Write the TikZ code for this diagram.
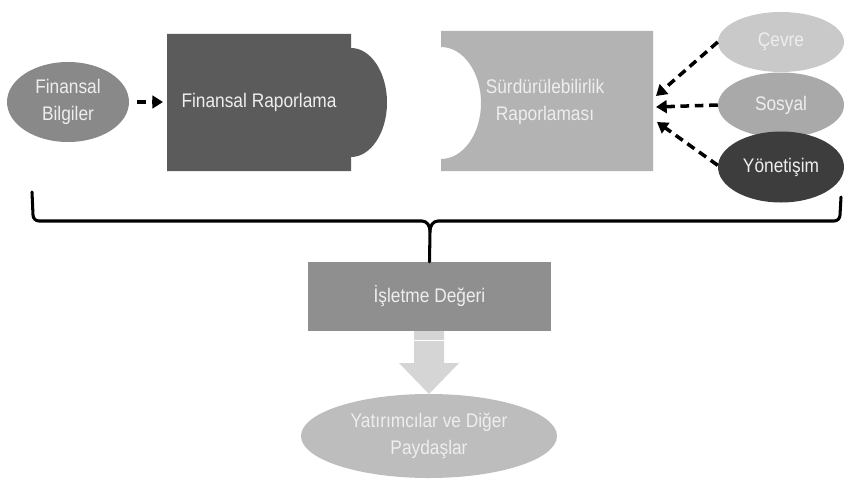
\documentclass[tikz,border=0pt]{standalone}
\usepackage{fontspec}
\setmainfont{Liberation Sans}[FakeStretch=0.88]
\usetikzlibrary{shapes.geometric,arrows.meta}
\definecolor{txtlight}{HTML}{EEEEEE}
\definecolor{bilgigray}{HTML}{898989}
\definecolor{finrapgray}{HTML}{5B5B5B}
\definecolor{surdgray}{HTML}{B3B3B3}
\definecolor{cevregray}{HTML}{C9C9C9}
\definecolor{sosyalgray}{HTML}{A9A9A9}
\definecolor{yonetgray}{HTML}{3D3D3D}
\definecolor{degergray}{HTML}{8F8F8F}
\definecolor{okgray}{HTML}{D5D5D5}
\definecolor{paydasgray}{HTML}{BDBDBD}
\begin{document}
\begin{tikzpicture}[x=0.03cm,y=-0.03cm,line join=round,line cap=round,
    font=\fontsize{16.8pt}{23pt}\selectfont,
    oval/.style={ellipse,inner sep=0pt,text=txtlight,align=center},
    dasharrow/.style={line width=3pt,line cap=butt,dash pattern=on 0.26cm off 0.17cm,
        -{Triangle[length=0.32cm,width=0.38cm]}}]
    \useasboundingbox (0,0) rectangle (844,479);
    \def\finrapshape{(167,34) -- (351,34) -- (351,48)
        arc[start angle=90,end angle=-90,x radius=1.08cm,y radius=1.635cm]
        -- (351,171) -- (167,171) -- cycle}
    \def\surdshape{(441,31) -- (653,31) -- (653,171) -- (441,171) -- (441,159)
        arc[start angle=-90,end angle=90,x radius=1.2cm,y radius=1.68cm] -- cycle}
    % ust sira
    \fill[finrapgray] \finrapshape;
    \fill[surdgray] \surdshape;
    \node[text=txtlight] (finrap) at (259,102) {Finansal Raporlama};
    \node[text=txtlight,align=center] (surd) at (545,102) {Sürdürülebilirlik\\Raporlaması};
    \node[oval,fill=bilgigray,minimum width=3.66cm,minimum height=2.4cm] (bilgi) at (68,102) {Finansal\\Bilgiler};
    \node[oval,fill=cevregray,minimum width=3.78cm,minimum height=1.8cm] (cevre) at (781,42) {Çevre};
    \node[oval,fill=sosyalgray,minimum width=3.78cm,minimum height=1.95cm] (sosyal) at (781,105) {Sosyal};
    \node[oval,fill=yonetgray,minimum width=3.78cm,minimum height=2.13cm] (yonet) at (781,167) {Yönetişim};
    \coordinate (finrapw) at (163,102);
    \coordinate (surd1) at (656,96);
    \coordinate (surd2) at (656,107);
    \coordinate (surd3) at (657,122);
    \draw[dasharrow] ([xshift=0.24cm]bilgi.east) -- (finrapw);
    \draw[dasharrow] (cevre.west) -- (surd1);
    \draw[dasharrow] (sosyal.west) -- (surd2);
    \draw[dasharrow] ([yshift=0.05cm]yonet.west) -- (surd3);
    % kume parantezi
    \coordinate (braceL) at (32,192);
    \coordinate (braceR) at (841,197);
    \coordinate (bracetip) at (430,231);
    \draw[line width=2.6pt] (braceL) -- (33,215) to[out=-90,in=180] (39,221) -- (422,221)
        to[out=0,in=90] (bracetip) to[out=90,in=180] (438,221) -- (834,221)
        to[out=0,in=-90] (840,215) -- (braceR);
    % alt kisim
    \node[fill=degergray,text=txtlight,minimum width=7.29cm,minimum height=2.07cm,inner sep=0pt] (deger) at (429.5,296.5) {İşletme Değeri};
    \draw[line width=2.6pt] (bracetip) -- (deger.north);
    \node[oval,fill=paydasgray,minimum width=7.68cm,minimum height=2.52cm] (paydas) at (429,436) {Yatırımcılar ve Diğer\\Paydaşlar};
    \fill[okgray] (414,331) -- (444,331) -- (444,363) -- (459,363) -- (429,394)
        -- (399,363) -- (414,363) -- cycle;
    \draw[white,line width=0.6pt,line cap=butt] (414,340) -- (444,340);
\end{tikzpicture}
\end{document}
